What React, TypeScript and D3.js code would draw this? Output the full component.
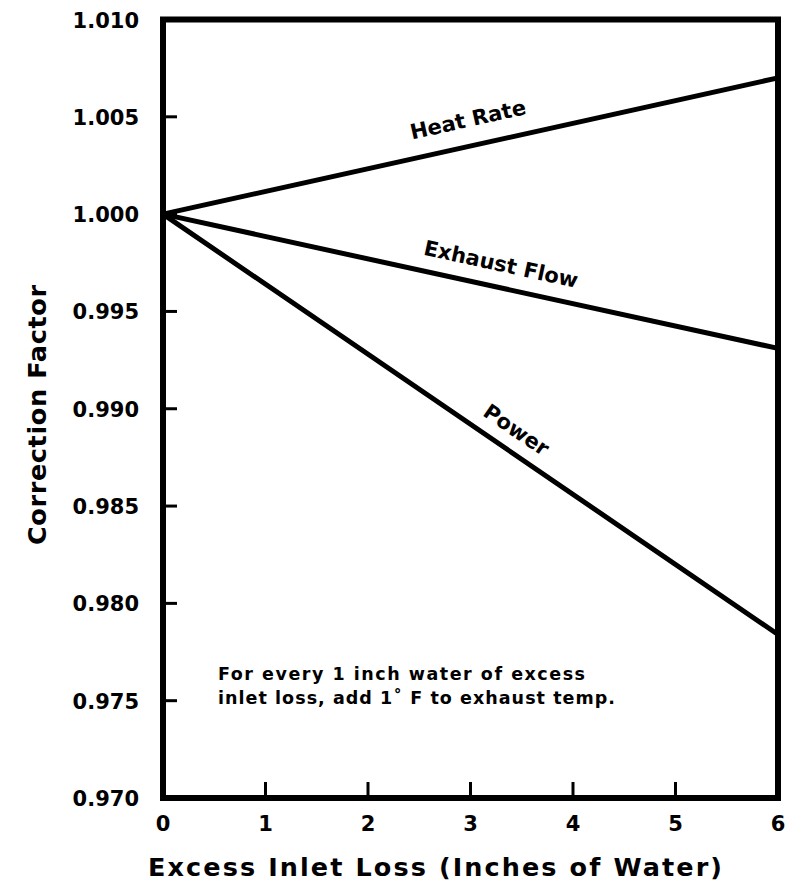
import React from "react";
import * as d3 from "d3";

// values
const xValues = [0, 6];
const heatRate = [1.0, 1.007];
const exhaustFlow = [1.0, 0.9931];
const power = [1.0, 0.9784];
const xTicks = [0, 1, 2, 3, 4, 5, 6];
const yTicks = [0.97, 0.975, 0.98, 0.985, 0.99, 0.995, 1.0, 1.005, 1.01];

const series = [
  { name: "Heat Rate", values: heatRate, at: 3.03, offset: 27 },
  { name: "Exhaust Flow", values: exhaustFlow, at: 3.25, offset: 24 },
  { name: "Power", values: power, at: 3.33, offset: 22 },
];

const font = "'DejaVu Sans', Verdana, sans-serif";

const margin = { top: 19.5, right: 12, bottom: 92, left: 163 };
const width = 790;
const height = 890;

const App = () => {
  const x = d3
    .scaleLinear()
    .domain([0, 6])
    .range([margin.left, width - margin.right]);
  const y = d3
    .scaleLinear()
    .domain([0.97, 1.01])
    .range([height - margin.bottom, margin.top]);

  const line = d3
    .line<number>()
    .x((d, i) => x(xValues[i]))
    .y((d) => y(d));

  const fmt = d3.format(".3f");

  return (
    <svg
      width={width}
      height={height}
      style={{ position: "absolute", left: 0, top: 0, background: "#fff" }}
      fontFamily={font}
      fontWeight="bold"
    >
      {/* data lines */}
      {series.map((s) => (
        <path
          key={s.name}
          d={line(s.values) || ""}
          fill="none"
          stroke="#000"
          strokeWidth={5}
          strokeLinecap="round"
        />
      ))}

      {/* line labels, rotated along each line */}
      {series.map((s) => {
        const x0 = x(xValues[0]);
        const y0 = y(s.values[0]);
        const x1 = x(xValues[1]);
        const y1 = y(s.values[1]);
        const ang = Math.atan2(y1 - y0, x1 - x0);
        const px = x(s.at);
        const py = y0 + ((px - x0) * (y1 - y0)) / (x1 - x0);
        const deg = (ang * 180) / Math.PI;
        return (
          <text
            key={s.name + "-label"}
            transform={`translate(${px},${py}) rotate(${deg})`}
            y={-s.offset + 8}
            textAnchor="middle"
            fontSize={21}
          >
            {s.name}
          </text>
        );
      })}

      {/* y ticks */}
      {yTicks.map((t) => (
        <g key={"y" + t}>
          {t > 0.9701 && t < 1.0099 && (
            <line
              x1={x(0)}
              x2={x(0) + 14}
              y1={y(t)}
              y2={y(t)}
              stroke="#000"
              strokeWidth={3}
            />
          )}
          <text x={139} y={y(t) + 8} textAnchor="end" fontSize={21}>
            {fmt(t)}
          </text>
        </g>
      ))}

      {/* x ticks */}
      {xTicks.map((t) => (
        <g key={"x" + t}>
          {t > 0 && t < 6 && (
            <line
              x1={x(t)}
              x2={x(t)}
              y1={y(0.97)}
              y2={y(0.97) - 16}
              stroke="#000"
              strokeWidth={3}
            />
          )}
          <text x={x(t)} y={831} textAnchor="middle" fontSize={21}>
            {t}
          </text>
        </g>
      ))}

      {/* frame */}
      <rect
        x={x(0)}
        y={y(1.01)}
        width={x(6) - x(0)}
        height={y(0.97) - y(1.01)}
        fill="none"
        stroke="#000"
        strokeWidth={6}
      />

      {/* note */}
      <text x={218} y={680} fontSize={17.5} textLength={367} lengthAdjust="spacing">
        For every 1 inch water of excess
      </text>
      <text x={218} y={704} fontSize={17.5} textLength={397} lengthAdjust="spacing">
        inlet loss, add 1˚ F to exhaust temp.
      </text>

      {/* axis titles */}
      <text
        x={435}
        y={876}
        textAnchor="middle"
        fontSize={25.5}
        textLength={574}
        lengthAdjust="spacing"
      >
        Excess Inlet Loss (Inches of Water)
      </text>
      <text
        transform={`translate(46,415) rotate(-90)`}
        textAnchor="middle"
        fontSize={25.5}
        textLength={260}
        lengthAdjust="spacing"
      >
        Correction Factor
      </text>
    </svg>
  );
};

export default App;
